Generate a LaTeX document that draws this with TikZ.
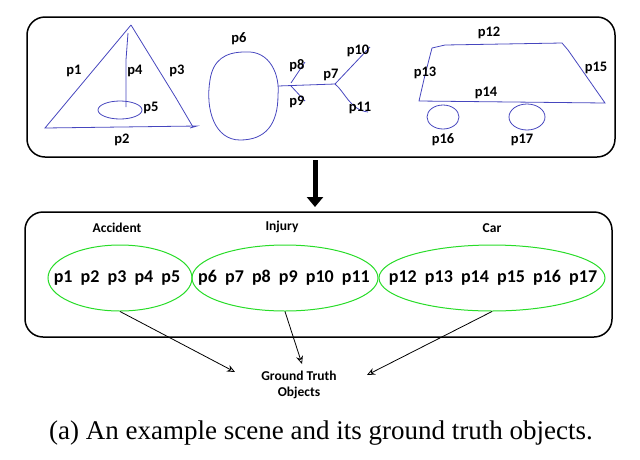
\documentclass[tikz,border=0pt]{standalone}
\usepackage{fontspec}
\setmainfont{Carlito}
\newfontfamily\capfont{Liberation Serif}
\usetikzlibrary{arrows.meta,shapes.geometric}
\begin{document}
\begin{tikzpicture}[x=1pt,y=-1pt,
  lab/.style={font=\bfseries\fontsize{14.5}{16}\selectfont, inner sep=1pt},
  sk/.style={draw={rgb,255:red,70;green,70;blue,190}, line width=0.8pt},
  panel/.style={draw, line width=1.5pt, rounded corners=18pt},
  grp/.style={ellipse, draw={rgb,255:red,40;green,220;blue,40}, line width=1pt},
  arr/.style={-{Stealth[length=8pt,width=7pt,open]}, line width=0.8pt}]
\useasboundingbox (0,0) rectangle (640,459);
% top panel
\node[panel, minimum width=588pt, minimum height=140pt] (top) at (321,87) {};
% triangle
\draw[sk] (131,25) -- (45,128) -- (197,126) -- (190,128);
\draw[sk] (131,25) -- (176,98) -- (193,127);
\draw[sk] (128,33) -- (126,60) -- (126,107);
\draw[sk] (120,110) ellipse (22pt and 9pt);
\node[lab] (p1) at (74,71) {p1};
\node[lab] (p4) at (135,71) {p4};
\node[lab] (p3) at (177,71) {p3};
\node[lab] (p5) at (151,108) {p5};
\node[lab] (p2) at (122,140) {p2};
% injury
\draw[sk] (245,52) .. controls (270,50) and (280,75) .. (278,95) .. controls (278,125) and (265,140) .. (240,140) .. controls (215,140) and (205,110) .. (210,80) .. controls (213,60) and (225,52) .. (245,52);
\draw[sk] (278,86) -- (335,84);
\draw[sk] (291,83) -- (305,62);
\draw[sk] (291,86) -- (305,101);
\draw[sk] (335,84) -- (370,47);
\draw[sk] (335,84) .. controls (345,92) and (350,110) .. (368,112);
\node[lab] (p6) at (239,39) {p6};
\node[lab] (p8) at (297,66) {p8};
\node[lab] (p9) at (297,102) {p9};
\node[lab] (p7) at (331,75) {p7};
\node[lab] (p10) at (358,51) {p10};
\node[lab] (p11) at (360,108) {p11};
% car
\draw[sk] (432,48) -- (445,45) -- (562,43) -- (568,50) -- (605,103) -- (419,101) -- (425,75) -- (432,48);
\draw[sk] (443,117) ellipse (16pt and 12pt);
\draw[sk] (527,117) ellipse (18pt and 13pt);
\node[lab] (p12) at (489,33) {p12};
\node[lab] (p13) at (425,73) {p13};
\node[lab] (p15) at (596,68) {p15};
\node[lab] (p14) at (486,93) {p14};
\node[lab] (p16) at (443,140) {p16};
\node[lab] (p17) at (522,140) {p17};
% big arrow
\coordinate (a1) at (315,160);
\coordinate (a2) at (315,207);
\draw[line width=5pt, -{Triangle[length=10pt,width=16pt]}] (a1) -- (a2);
% bottom panel
\node[panel, minimum width=587pt, minimum height=125pt] (bot) at (318.5,274.5) {};
\node[grp, minimum width=144pt, minimum height=66pt] (acc) at (120,278) {};
\node[grp, minimum width=186pt, minimum height=66pt] (inj) at (285,278) {};
\node[grp, minimum width=226pt, minimum height=66pt] (car) at (492,278) {};
\node[lab,font=\bfseries\fontsize{13.5}{16}\selectfont] (la) at (117,228) {Accident};
\node[lab,font=\bfseries\fontsize{13.5}{16}\selectfont] (li) at (282,227) {Injury};
\node[lab,font=\bfseries\fontsize{13.5}{16}\selectfont] (lc) at (492,228) {Car};
\node[lab,font=\bfseries\fontsize{18}{20}\selectfont] (ga) at (117,278) {p1\ \ p2\ \ p3\ \ p4\ \ p5};
\node[lab,font=\bfseries\fontsize{18}{20}\selectfont] (gi) at (284,278) {p6\ \ p7\ \ p8\ \ p9\ \ p10\ \ p11};
\node[lab,font=\bfseries\fontsize{18}{20}\selectfont] (gc) at (493,278) {p12\ \ p13\ \ p14\ \ p15\ \ p16\ \ p17};
\node[lab, align=center, font=\bfseries\fontsize{13.5}{16}\selectfont] (gt) at (299,385) {Ground Truth\\Objects};
\draw[arr] (acc.south) -- (235,372);
\draw[arr] (inj.south) -- (302,364);
\draw[arr] (car.south) -- (367,375);
\node[font=\capfont\fontsize{27}{30}\selectfont] (cap) at (321,433) {(a) An example scene and its ground truth objects.};
\end{tikzpicture}
\end{document}
